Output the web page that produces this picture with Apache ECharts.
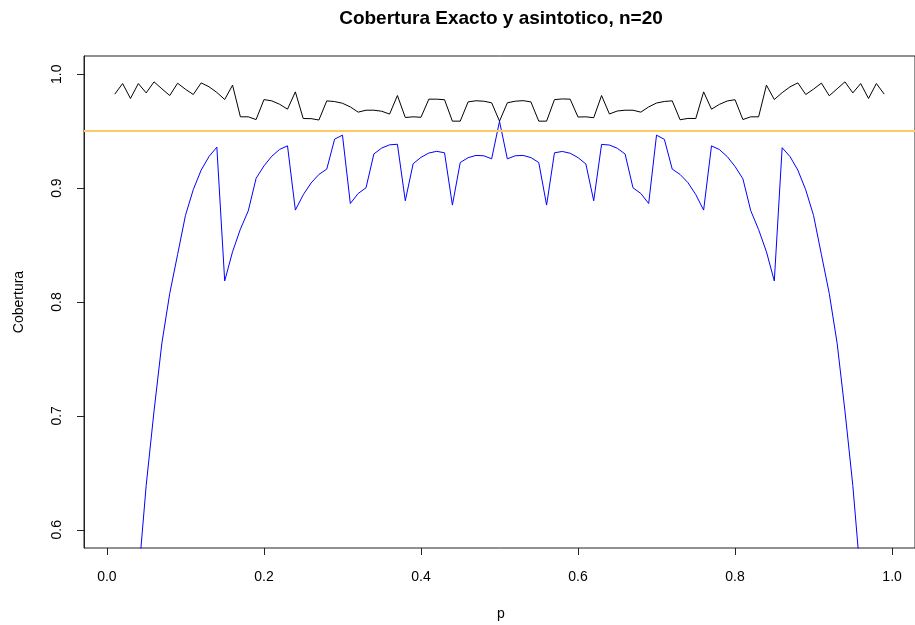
<!DOCTYPE html>
<html>
<head>
<meta charset="utf-8">
<script src="https://cdn.jsdelivr.net/npm/echarts@6.0.0/dist/echarts.min.js"></script>
<style>
  html, body { margin: 0; padding: 0; background: #ffffff; }
  #chart { width: 915px; height: 625px; }
</style>
</head>
<body>
<div id="chart"></div>
<script>
// Probability of success, n = 20
const p = [
  0.01,0.02,0.03,0.04,0.05,0.06,0.07,0.08,0.09,0.10,
  0.11,0.12,0.13,0.14,0.15,0.16,0.17,0.18,0.19,0.20,
  0.21,0.22,0.23,0.24,0.25,0.26,0.27,0.28,0.29,0.30,
  0.31,0.32,0.33,0.34,0.35,0.36,0.37,0.38,0.39,0.40,
  0.41,0.42,0.43,0.44,0.45,0.46,0.47,0.48,0.49,0.50,
  0.51,0.52,0.53,0.54,0.55,0.56,0.57,0.58,0.59,0.60,
  0.61,0.62,0.63,0.64,0.65,0.66,0.67,0.68,0.69,0.70,
  0.71,0.72,0.73,0.74,0.75,0.76,0.77,0.78,0.79,0.80,
  0.81,0.82,0.83,0.84,0.85,0.86,0.87,0.88,0.89,0.90,
  0.91,0.92,0.93,0.94,0.95,0.96,0.97,0.98,0.99
];

// Coverage of the exact (Clopper-Pearson) interval
const coberturaExacta = [
  0.9825,0.9918,0.9787,0.9918,0.9836,0.9933,0.9872,0.9813,0.9921,0.9868,
  0.9822,0.9924,0.9890,0.9840,0.9778,0.9904,0.9626,0.9626,0.9602,0.9777,
  0.9766,0.9736,0.9693,0.9845,0.9611,0.9610,0.9598,0.9766,0.9760,0.9745,
  0.9713,0.9667,0.9684,0.9684,0.9675,0.9650,0.9813,0.9620,0.9626,0.9622,
  0.9781,0.9781,0.9776,0.9588,0.9588,0.9757,0.9767,0.9763,0.9749,0.9588,
  0.9749,0.9763,0.9768,0.9757,0.9588,0.9588,0.9777,0.9783,0.9781,0.9624,
  0.9626,0.9618,0.9813,0.9651,0.9677,0.9684,0.9684,0.9667,0.9713,0.9747,
  0.9761,0.9766,0.9600,0.9612,0.9611,0.9845,0.9693,0.9735,0.9765,0.9776,
  0.9602,0.9626,0.9626,0.9904,0.9778,0.9838,0.9889,0.9924,0.9822,0.9869,
  0.9922,0.9811,0.9872,0.9933,0.9836,0.9918,0.9787,0.9918,0.9825
];

// Coverage of the asymptotic (Wald) interval
const coberturaAsintotica = [
  0.1821,0.3318,0.4560,0.5570,0.6389,0.7043,0.7639,0.8075,0.8416,0.8760,
  0.8987,0.9158,0.9277,0.9360,0.8185,0.8441,0.8640,0.8800,0.9086,0.9195,
  0.9280,0.9340,0.9371,0.8807,0.8941,0.9045,0.9120,0.9167,0.9430,0.9465,
  0.8865,0.8953,0.9003,0.9300,0.9352,0.9380,0.9385,0.8889,0.9214,0.9270,
  0.9308,0.9323,0.9310,0.8851,0.9225,0.9267,0.9287,0.9284,0.9257,0.9586,
  0.9257,0.9284,0.9287,0.9268,0.9225,0.8851,0.9310,0.9322,0.9306,0.9268,
  0.9212,0.8889,0.9384,0.9378,0.9350,0.9299,0.9003,0.8953,0.8865,0.9465,
  0.9428,0.9167,0.9120,0.9048,0.8943,0.8807,0.9371,0.9339,0.9277,0.9190,
  0.9082,0.8802,0.8636,0.8441,0.8185,0.9355,0.9277,0.9158,0.8985,0.8760,
  0.8416,0.8075,0.7639,0.7043,0.6389,0.5570,0.4560,0.3318,0.1821
];

// Nominal confidence level
const nivel = 0.95;

// Axis ticks
const xTicks = [0.0, 0.2, 0.4, 0.6, 0.8, 1.0];
const yTicks = [0.6, 0.7, 0.8, 0.9, 1.0];

const FONT = "'Liberation Sans', Arial, Helvetica, sans-serif";

const pares = (ys) => p.map((x, i) => [x, ys[i]]);

const chart = echarts.init(document.getElementById('chart'), null, { renderer: 'canvas' });

chart.setOption({
  animation: false,
  backgroundColor: '#ffffff',
  textStyle: { fontFamily: FONT },
  graphic: [
    {
      type: 'text',
      x: 501, y: 19,
      style: {
        text: 'Cobertura Exacto y asintotico, n=20',
        font: 'bold 19px ' + FONT,
        fill: '#000',
        align: 'center',
        verticalAlign: 'middle'
      }
    },
    {
      type: 'text',
      x: 501, y: 614,
      style: {
        text: 'p',
        font: '14px ' + FONT,
        fill: '#000',
        align: 'center',
        verticalAlign: 'middle'
      }
    },
    {
      type: 'text',
      x: 19, y: 302,
      rotation: Math.PI / 2,
      style: {
        text: 'Cobertura',
        font: '14px ' + FONT,
        fill: '#000',
        align: 'center',
        verticalAlign: 'middle'
      }
    }
  ],
  grid: {
    left: 84, top: 56, width: 835, height: 492,
    show: true, borderColor: '#222', borderWidth: 1,
    backgroundColor: 'transparent',
    containLabel: false
  },
  xAxis: {
    type: 'value',
    min: -0.0292, max: 1.0292,
    axisLine: { show: false, onZero: false },
    splitLine: { show: false },
    axisTick: {
      show: true, inside: false, length: 7,
      customValues: xTicks,
      lineStyle: { color: '#222', width: 1 }
    },
    axisLabel: {
      show: true, margin: 22,
      customValues: xTicks,
      fontFamily: FONT, fontSize: 14, color: '#000',
      formatter: (v) => v.toFixed(1)
    }
  },
  yAxis: {
    type: 'value',
    position: 'left',
    min: 0.584, max: 1.016,
    axisLine: { show: true, onZero: false, lineStyle: { color: '#222', width: 1 } },
    splitLine: { show: false },
    axisTick: {
      show: true, inside: false, length: 7,
      customValues: yTicks,
      lineStyle: { color: '#222', width: 1 }
    },
    axisLabel: {
      show: true, margin: 20, rotate: 90,
      customValues: yTicks,
      fontFamily: FONT, fontSize: 14, color: '#000',
      formatter: (v) => v.toFixed(1)
    }
  },
  series: [
    {
      name: 'Exacto',
      type: 'line',
      data: pares(coberturaExacta),
      showSymbol: false,
      clip: true,
      z: 2,
      lineStyle: { color: '#000000', width: 1, join: 'round' },
      markLine: {
        silent: true,
        symbol: 'none',
        label: { show: false },
        lineStyle: { color: '#FFC966', width: 2, type: 'solid' },
        data: [{ yAxis: nivel }],
        animation: false
      }
    },
    {
      name: 'Asintotico',
      type: 'line',
      data: pares(coberturaAsintotica),
      showSymbol: false,
      clip: true,
      z: 3,
      lineStyle: { color: '#0000FF', width: 1, join: 'round' }
    }
  ]
});
</script>
</body>
</html>
